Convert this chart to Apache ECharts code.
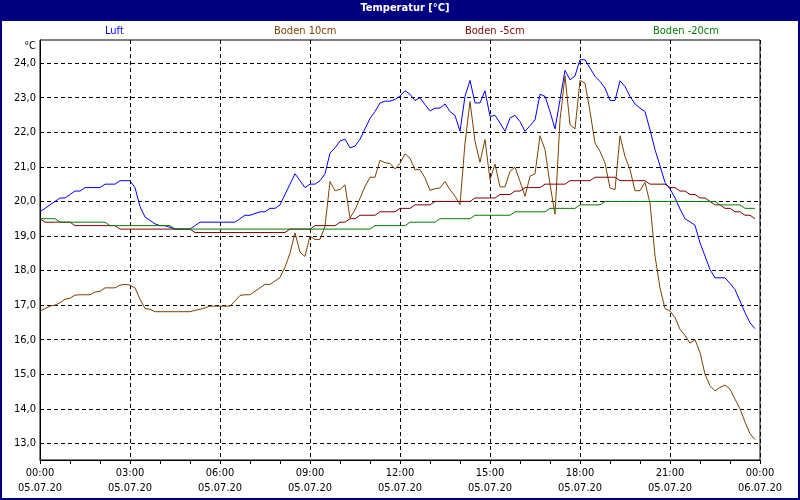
<!DOCTYPE html>
<html>
<head>
<meta charset="utf-8">
<script src="https://cdn.jsdelivr.net/npm/echarts@6/dist/echarts.min.js"></script>
<style>
html,body{margin:0;padding:0;background:#fff;}
#chart{width:800px;height:500px;}
</style>
</head>
<body>
<div id="chart"></div>
<script>
// Sampling: one value every 10 minutes, 05.07.20 00:00 .. 23:50
var stepMinutes = 10;
var seriesNames = ['Luft', 'Boden 10cm', 'Boden -5cm', 'Boden -20cm'];
var xTickLabels = ['00:00\n05.07.20','03:00\n05.07.20','06:00\n05.07.20','09:00\n05.07.20','12:00\n05.07.20','15:00\n05.07.20','18:00\n05.07.20','21:00\n05.07.20','00:00\n06.07.20'];
var yTicks = [13,14,15,16,17,18,19,20,21,22,23,24];

var luft = [
19.7,19.8,19.9,20.0,20.1,20.1,20.2,20.3,20.3,20.4,20.4,20.4,
20.4,20.5,20.5,20.5,20.6,20.6,20.6,20.4,19.85,19.55,19.45,19.35,
19.3,19.3,19.25,19.2,19.2,19.2,19.2,19.3,19.4,19.4,19.4,19.4,
19.4,19.4,19.4,19.4,19.5,19.6,19.6,19.65,19.7,19.7,19.8,19.8,
19.9,20.2,20.5,20.8,20.6,20.4,20.5,20.5,20.6,20.8,21.4,21.55,
21.75,21.8,21.55,21.6,21.8,22.1,22.4,22.6,22.85,22.9,22.9,22.95,
23.05,23.2,23.1,22.92,23.0,22.8,22.62,22.7,22.7,22.82,22.6,22.49,
22.03,23.04,23.5,22.85,22.85,23.2,22.46,22.49,22.27,22.03,22.41,22.49,
22.31,22.03,22.19,22.36,23.1,23.04,22.6,22.1,22.94,23.79,23.52,23.63,
24.1,24.1,23.86,23.62,23.47,23.28,22.92,22.92,23.49,23.32,23.04,22.82,
22.7,22.6,22.07,21.5,21.03,20.55,20.36,20.1,19.78,19.5,19.41,19.31,
18.8,18.42,18.03,17.79,17.79,17.79,17.63,17.45,17.12,16.78,16.49,16.32
];
var boden10 = [
16.83,16.9,16.97,17.0,17.07,17.17,17.2,17.29,17.3,17.3,17.3,17.38,
17.4,17.5,17.5,17.5,17.58,17.6,17.58,17.5,17.17,16.9,16.88,16.81,
16.81,16.81,16.81,16.81,16.81,16.81,16.81,16.85,16.88,16.92,16.97,16.97,
16.97,16.97,16.97,17.12,17.28,17.3,17.3,17.4,17.5,17.6,17.6,17.7,
17.8,18.1,18.5,19.09,18.53,18.41,19.0,18.9,18.9,19.28,20.58,20.31,
20.35,20.48,19.52,19.76,20.09,20.43,20.7,20.7,21.19,21.12,21.1,20.94,
21.1,21.38,21.25,20.92,20.92,20.68,20.32,20.37,20.39,20.58,20.34,20.15,
19.91,21.69,22.89,21.74,21.13,21.79,20.63,21.08,20.42,20.42,20.87,20.99,
20.58,20.15,20.73,20.8,21.9,21.5,20.49,19.63,22.36,23.63,22.22,22.1,
23.5,23.42,22.6,21.69,21.45,21.11,20.39,20.34,21.9,21.3,20.92,20.31,
20.31,20.55,19.95,18.42,17.5,16.9,16.83,16.64,16.3,16.12,15.9,16.0,
15.63,15.0,14.67,14.52,14.62,14.69,14.57,14.28,14.0,13.62,13.28,13.11
];
var boden5 = [
19.5,19.4,19.4,19.4,19.4,19.4,19.4,19.3,19.3,19.3,19.3,19.3,
19.3,19.3,19.3,19.3,19.2,19.2,19.2,19.2,19.2,19.2,19.2,19.2,
19.2,19.2,19.2,19.2,19.2,19.2,19.2,19.1,19.1,19.1,19.1,19.1,
19.1,19.1,19.1,19.1,19.1,19.1,19.1,19.1,19.1,19.1,19.1,19.1,
19.1,19.1,19.2,19.2,19.2,19.2,19.2,19.3,19.3,19.3,19.3,19.3,
19.4,19.4,19.5,19.5,19.6,19.6,19.6,19.6,19.7,19.7,19.7,19.7,
19.8,19.8,19.8,19.9,19.9,19.9,19.9,20.0,20.0,20.0,20.0,20.0,
20.0,20.0,20.0,20.1,20.1,20.1,20.1,20.1,20.2,20.2,20.2,20.3,
20.3,20.4,20.4,20.4,20.4,20.5,20.5,20.5,20.5,20.5,20.6,20.6,
20.6,20.6,20.6,20.7,20.7,20.7,20.7,20.7,20.6,20.6,20.6,20.6,
20.6,20.6,20.5,20.5,20.5,20.5,20.4,20.4,20.3,20.3,20.2,20.2,
20.1,20.1,20.0,19.9,19.9,19.8,19.8,19.7,19.7,19.6,19.6,19.5
];
var boden20 = [
19.5,19.5,19.5,19.5,19.4,19.4,19.4,19.4,19.4,19.4,19.4,19.4,
19.4,19.4,19.3,19.3,19.3,19.3,19.3,19.3,19.3,19.3,19.3,19.3,
19.3,19.3,19.3,19.2,19.2,19.2,19.2,19.2,19.2,19.2,19.2,19.2,
19.2,19.2,19.2,19.2,19.2,19.2,19.2,19.2,19.2,19.2,19.2,19.2,
19.2,19.2,19.2,19.2,19.2,19.2,19.2,19.2,19.2,19.2,19.2,19.2,
19.2,19.2,19.2,19.2,19.2,19.2,19.2,19.3,19.3,19.3,19.3,19.3,
19.3,19.3,19.4,19.4,19.4,19.4,19.4,19.4,19.5,19.5,19.5,19.5,
19.5,19.5,19.5,19.6,19.6,19.6,19.6,19.6,19.6,19.6,19.6,19.7,
19.7,19.7,19.7,19.7,19.7,19.7,19.8,19.8,19.8,19.8,19.8,19.8,
19.9,19.9,19.9,19.9,19.9,20.0,20.0,20.0,20.0,20.0,20.0,20.0,
20.0,20.0,20.0,20.0,20.0,20.0,20.0,20.0,20.0,20.0,20.0,20.0,
20.0,20.0,20.0,20.0,19.9,19.9,19.9,19.9,19.9,19.8,19.8,19.8
];

var colors = ['#0000ff', '#804000', '#800000', '#008000'];
var FONT = "'Liberation Sans Narrow', 'DejaVu Sans Condensed', 'Liberation Sans', sans-serif";

function toPairs(arr) {
  return arr.map(function (v, i) { return [i * stepMinutes, v]; });
}
var allData = [luft, boden10, boden5, boden20];
var legendLefts = [100, 269, 460, 648];

var chart = echarts.init(document.getElementById('chart'), null, {renderer: 'canvas'});
var option = {
  animation: false,
  backgroundColor: '#ffffff',
  title: {
    text: 'Temperatur [°C]',
    left: 405, top: 3, textAlign: 'center', padding: 0, z: 10,
    textStyle: {color: '#ffffff', fontSize: 11, fontWeight: 'bold', fontFamily: FONT}
  },
  graphic: [
    {type: 'rect', shape: {x: 0, y: 0, width: 800, height: 21}, style: {fill: '#000080'}, z: 0, silent: true},
    {type: 'rect', shape: {x: 1, y: 1, width: 798, height: 498}, style: {fill: null, stroke: '#000080', lineWidth: 2}, z: 0, silent: true}
  ],
  legend: seriesNames.map(function (n, i) {
    return {
      data: [n], left: legendLefts[i], top: 24, padding: 0,
      icon: 'none', itemWidth: 0, itemHeight: 14, selectedMode: false,
      textStyle: {color: colors[i], fontSize: 11, fontFamily: FONT}
    };
  }),
  grid: {left: 40, right: 40, top: 40, bottom: 40, show: true, borderColor: '#000', borderWidth: 1, backgroundColor: 'transparent'},
  xAxis: {
    type: 'value', min: 0, max: 1440, interval: 180,
    axisLine: {show: true, onZero: false, lineStyle: {color: '#000', width: 1}},
    axisTick: {show: true, length: 4, lineStyle: {color: '#000'}},
    minorTick: {show: true, splitNumber: 3, length: 4, lineStyle: {color: '#000'}},
    splitLine: {show: true, lineStyle: {color: '#000', type: [4, 3], width: 1}},
    axisLabel: {
      margin: 6, color: '#000', fontSize: 11, lineHeight: 15, fontFamily: FONT,
      formatter: function (v) { return xTickLabels[Math.round(v / 180)]; }
    }
  },
  yAxis: {
    type: 'value', min: 12.52, max: 24.67,
    name: '°C', nameLocation: 'end', nameGap: -6,
    nameTextStyle: {color: '#000', fontSize: 11, fontFamily: FONT, align: 'right', verticalAlign: 'middle', padding: [0, 4, 0, 0]},
    axisLine: {show: true, onZero: false, lineStyle: {color: '#000', width: 1}},
    axisTick: {show: false, customValues: yTicks},
    splitLine: {show: true, lineStyle: {color: '#000', type: [4, 3], width: 1}},
    axisLabel: {
      customValues: yTicks, margin: 4, color: '#000', fontSize: 11, fontFamily: FONT,
      formatter: function (v) { return v.toFixed(1).replace('.', ','); }
    }
  },
  series: seriesNames.map(function (n, i) {
    return {
      name: n, type: 'line', data: toPairs(allData[i]),
      showSymbol: false, symbol: 'none', smooth: false,
      lineStyle: {color: colors[i], width: 1},
      itemStyle: {color: colors[i]},
      emphasis: {disabled: true}
    };
  })
};
chart.setOption(option);
</script>
</body>
</html>
